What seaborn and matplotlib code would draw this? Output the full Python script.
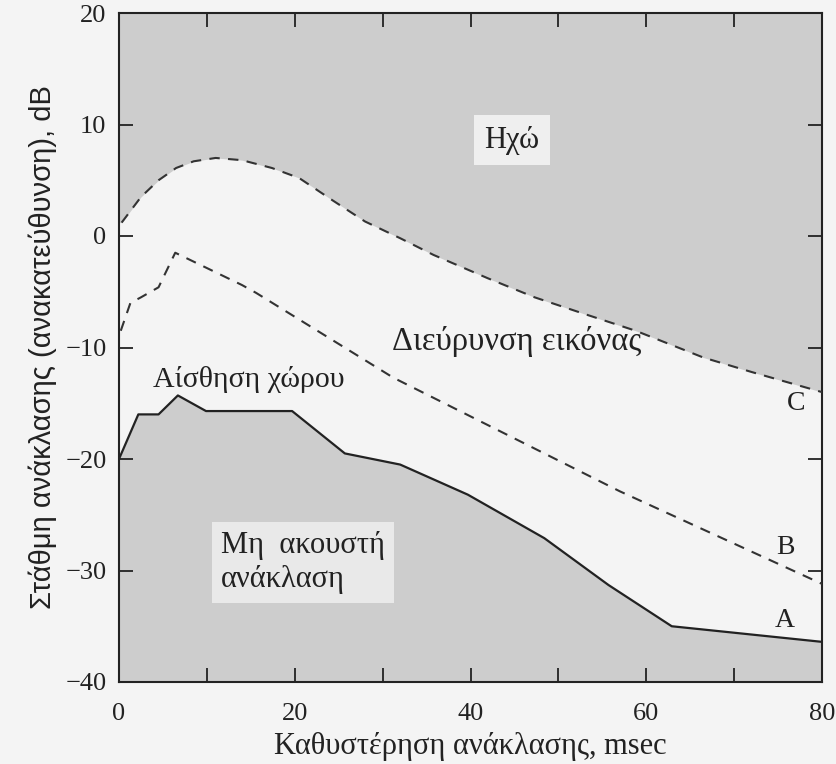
import numpy as np
import pandas as pd
import matplotlib
matplotlib.use("Agg")
import matplotlib.pyplot as plt
import seaborn as sns

# Curve C (upper dashed boundary: echo)
c_x = [0.3, 2.5, 4.5, 6.5, 8.5, 11.0, 14.0, 17.4, 20.5, 24.3, 28.0, 32.0, 35.8, 42.0, 47.3, 53.0, 58.8, 66.5, 72.0, 80.0]
c_y = [1.2, 3.5, 5.0, 6.1, 6.7, 7.0, 6.8, 6.1, 5.2, 3.2, 1.3, -0.2, -1.7, -3.8, -5.5, -7.0, -8.5, -10.9, -12.2, -14.0]
# Curve B (middle dashed)
b_x = [0.2, 1.3, 2.5, 4.5, 6.4, 14.0, 15.6, 31.2, 57.0, 80.0]
b_y = [-8.5, -6.0, -5.5, -4.6, -1.5, -4.4, -5.1, -12.7, -22.9, -31.2]
# Curve A (solid: threshold of audibility)
a_x = [0.0, 2.2, 4.5, 6.7, 9.9, 19.7, 25.7, 32.0, 39.7, 48.4, 55.7, 62.9, 80.0]
a_y = [-20.0, -16.0, -16.0, -14.3, -15.7, -15.7, -19.5, -20.5, -23.2, -27.1, -31.3, -35.0, -36.4]

x_ticks = [0, 20, 40, 60, 80]
y_ticks = [-40, -30, -20, -10, 0, 10, 20]

sns.set_theme(style="ticks")
plt.rcParams['font.family'] = ['Liberation Serif', 'DejaVu Serif']

bg = "#f4f4f4"
shade = "#cdcdcd"

fig = plt.figure(figsize=(8.36, 7.64), dpi=100, facecolor=bg)
ax = fig.add_axes([119/836, 1-682/764, (822-119)/836, (682-13)/764])
ax.set_facecolor(bg)
ax.set_axisbelow(False)

dfc = pd.DataFrame({"x": c_x, "y": c_y})
dfb = pd.DataFrame({"x": b_x, "y": b_y})
dfa = pd.DataFrame({"x": a_x, "y": a_y})

# shaded regions
cx = np.array([0.0] + c_x)
cy = np.array([c_y[0]] + c_y)
ax.fill_between(cx, cy, 20, color=shade, lw=0, zorder=1)
ax.fill_between(a_x, a_y, -40, color=shade, lw=0, zorder=1)

sns.lineplot(data=dfc, x="x", y="y", ax=ax, color="#333333", lw=1.5,
             linestyle=(0, (5, 4)), zorder=3)
sns.lineplot(data=dfb, x="x", y="y", ax=ax, color="#333333", lw=1.5,
             linestyle=(0, (5, 4)), zorder=3)
sns.lineplot(data=dfa, x="x", y="y", ax=ax, color="#222222", lw=1.6, zorder=3)

ax.set_xlim(0, 80)
ax.set_ylim(-40, 20)
ax.set_xticks(x_ticks)
ax.set_xticks([10, 30, 50, 70], minor=True)
ax.set_yticks(y_ticks)
ax.set_xticklabels([str(t) for t in x_ticks])
ax.set_yticklabels([str(t).replace('-', '\u2212') for t in y_ticks])
ax.tick_params(axis='both', which='both', direction='in', length=10, width=1.3,
               top=True, right=True, labelsize=19, colors="#222222")
ax.tick_params(axis='x', pad=15)
ax.tick_params(axis='y', pad=9)
for s in ax.spines.values():
    s.set_linewidth(1.5)
    s.set_color("#222222")

ax.set_xlabel("Καθυστέρηση ανάκλασης, msec", fontsize=22, color="#222222", labelpad=5)
ax.set_ylabel("Στάθμη ανάκλασης (ανακατεύθυνση), dB", fontsize=21, color="#222222",
              family=['Liberation Sans Narrow', 'Liberation Sans', 'DejaVu Sans'], labelpad=6)

tc = "#222222"
ax.text(44.7, 8.6, "Ηχώ", fontsize=22, ha="center", va="center", color=tc, zorder=4,
        bbox=dict(boxstyle="square,pad=0.35", fc="#efefef", ec="none"))
ax.text(45.3, -9.5, "Διεύρυνση εικόνας", fontsize=23.5, ha="center", va="center", color=tc, zorder=4)
ax.text(14.8, -12.9, "Αίσθηση χώρου", fontsize=21.5, ha="center", va="center", color=tc, zorder=4)
ax.text(11.6, -29.3, "Μη  ακουστή\nανάκλαση", fontsize=22, ha="left", va="center", color=tc,
        linespacing=1.2, zorder=4,
        bbox=dict(boxstyle="square,pad=0.3", fc="#e9e9e9", ec="none"))
ax.text(77.0, -15.0, "C", fontsize=20, ha="center", va="center", color=tc, zorder=4)
ax.text(75.8, -27.9, "B", fontsize=20, ha="center", va="center", color=tc, zorder=4)
ax.text(75.8, -34.5, "A", fontsize=20, ha="center", va="center", color=tc, zorder=4)

fig.savefig("out.png", dpi=100, facecolor=bg)
